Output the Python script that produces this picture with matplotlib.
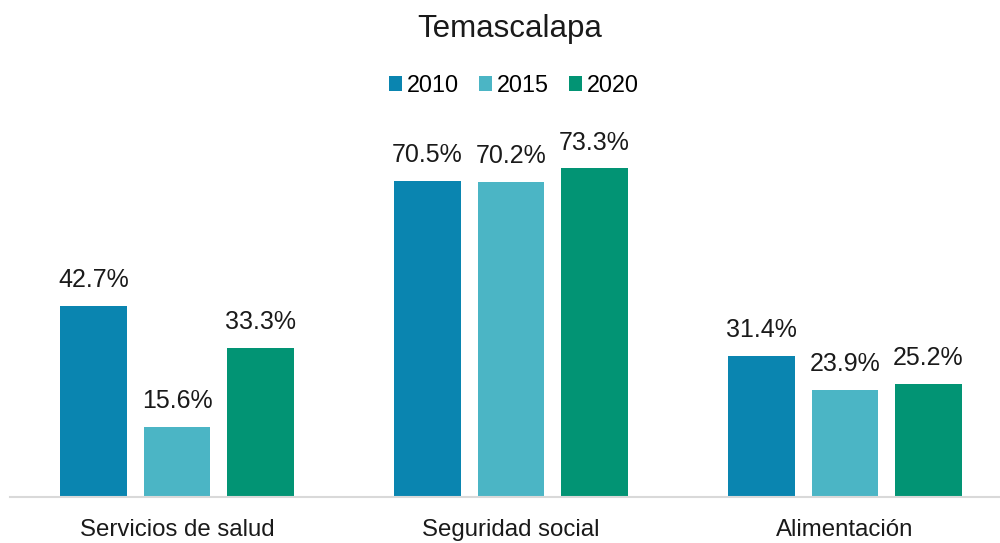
import numpy as np
import matplotlib.pyplot as plt

plt.rcParams['font.family'] = ['Liberation Sans', 'DejaVu Sans']

categorias = ['Servicios de salud', 'Seguridad social', 'Alimentación']
anios = ['2010', '2015', '2020']
v2010 = [42.7, 70.5, 31.4]
v2015 = [15.6, 70.2, 23.9]
v2020 = [33.3, 73.3, 25.2]
colores = ['#0A85B0', '#4BB5C5', '#029474']

fig = plt.figure(figsize=(10, 5.43), dpi=100)
ax = fig.add_axes([0.01, 0.085, 1.002, 0.66])

x = np.arange(len(categorias))
w = 0.2
step = 0.25
for i, (vals, anio) in enumerate(zip([v2010, v2015, v2020], anios)):
    pos = x + (i - 1) * step
    bars = ax.bar(pos, vals, width=w, color=colores[i], label=anio)
    for b, v in zip(bars, vals):
        ax.annotate(f'{v:.1f}%', (b.get_x() + b.get_width() / 2, v),
                    xytext=(0, 10), textcoords='offset points',
                    ha='center', va='bottom', fontsize=18, color='#1a1a1a',
                    annotation_clip=False)

ax.set_xlim(-0.5, 2.5)
ax.set_ylim(0, 80)
ax.set_xticks(x)
ax.set_xticklabels(categorias, fontsize=17.3, color='#1a1a1a')
ax.tick_params(axis='x', length=0, pad=16)
ax.set_yticks([])
for s in ['top', 'right', 'left']:
    ax.spines[s].set_visible(False)
ax.spines['bottom'].set_color('#D9D9D9')
ax.spines['bottom'].set_linewidth(1.5)

fig.suptitle('Temascalapa', fontsize=22.5, x=0.51, y=0.975, color='#1a1a1a')
fig.legend(loc='center', bbox_to_anchor=(0.514, 0.843), ncol=3, frameon=False,
           fontsize=16.8, handlelength=0.55, handleheight=0.55, handletextpad=0.22,
           columnspacing=0.85)

fig.savefig('out.png', dpi=100)
